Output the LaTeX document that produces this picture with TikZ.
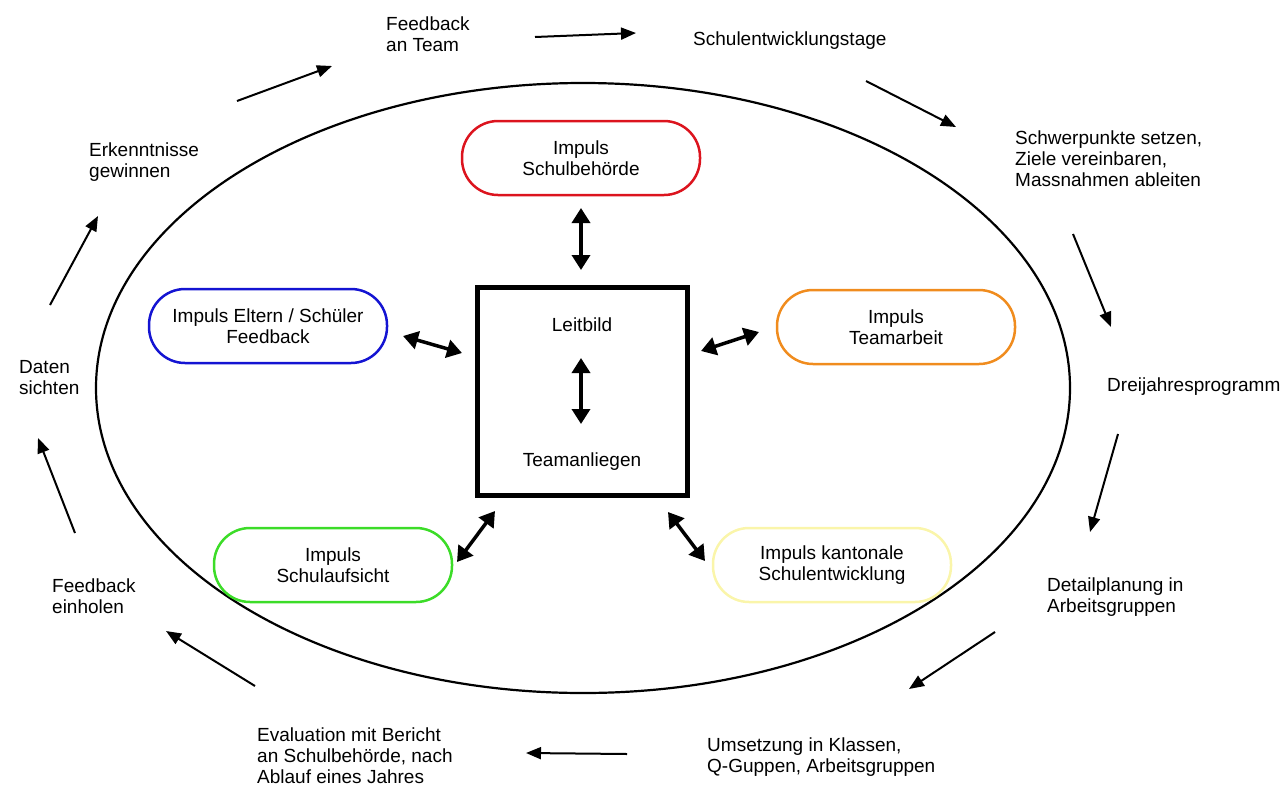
\documentclass[tikz,border=0pt]{standalone}
\usepackage{fontspec}
\setmainfont{Liberation Sans}
\usetikzlibrary{arrows.meta}
\begin{document}
\begin{tikzpicture}[x=1pt,y=-1pt,
  txt/.style={inner sep=0pt,align=left,anchor=west,font=\fontsize{19}{21}\selectfont},
  impuls/.style={draw,line width=2.5pt,rounded corners=36pt,minimum width=238pt,minimum height=74pt,align=center,font=\fontsize{19}{21}\selectfont},
  twoway/.style={line width=3.5pt,{Triangle[length=15pt,width=18pt]}-{Triangle[length=15pt,width=18pt]}},
  cyclearrow/.style={line width=2pt,-{Triangle[length=15pt,width=12pt]}}]
\useasboundingbox (0,0) rectangle (1282,798);

% outer ellipse
\draw[line width=2.2pt] (583,388) ellipse [x radius=487pt, y radius=305pt];

% central square
\node[draw,line width=5pt,minimum width=210pt,minimum height=208pt] (core) at (582,391) {};
\node[font=\fontsize{19}{21}\selectfont,inner sep=0pt] (leit) at (582,325) {Leitbild};
\node[font=\fontsize{19}{21}\selectfont,inner sep=0pt] (team) at (582,462) {Teamanliegen};

% impulse boxes
\node[impuls,draw={rgb,255:red,220;green,20;blue,30}] (behoerde) at (581,158) {Impuls\\Schulbehörde};
\node[impuls,draw={rgb,255:red,20;green,20;blue,210}] (eltern) at (268,326) {Impuls Eltern / Schüler\\Feedback};
\node[impuls,draw={rgb,255:red,240;green,140;blue,30}] (teamarbeit) at (896,327) {Impuls\\Teamarbeit};
\node[impuls,draw={rgb,255:red,60;green,220;blue,40}] (aufsicht) at (333,565) {Impuls\\Schulaufsicht};
\node[impuls,draw={rgb,255:red,250;green,245;blue,170}] (kanton) at (832,565) {Impuls kantonale\\Schulentwicklung};

% two-way connectors
\coordinate (a1) at (581,208); \coordinate (a2) at (581,270);
\coordinate (b1) at (581,358); \coordinate (b2) at (581,424);
\coordinate (c1) at (403,336); \coordinate (c2) at (462,353);
\coordinate (d1) at (701,351); \coordinate (d2) at (759,332);
\coordinate (e1) at (457,562); \coordinate (e2) at (495,511);
\coordinate (f1) at (668,512); \coordinate (f2) at (705,561);
\draw[twoway] (a1) -- (a2);
\draw[twoway] (b1) -- (b2);
\draw[twoway] (c1) -- (c2);
\draw[twoway] (d1) -- (d2);
\draw[twoway] (e1) -- (e2);
\draw[twoway] (f1) -- (f2);

% cycle labels
\node[txt] (s1) at (386,34) {Feedback\\an Team};
\node[txt] (s2) at (693,41) {Schulentwicklungstage};
\node[txt] (s3) at (1015,159) {Schwerpunkte setzen,\\Ziele vereinbaren,\\Massnahmen ableiten};
\node[txt] (s4) at (1107,387) {Dreijahresprogramm};
\node[txt] (s5) at (1047,597) {Detailplanung in\\Arbeitsgruppen};
\node[txt] (s6) at (707,757) {Umsetzung in Klassen,\\Q-Guppen, Arbeitsgruppen};
\node[txt] (s7) at (257,756) {Evaluation mit Bericht\\an Schulbehörde, nach\\Ablauf eines Jahres};
\node[txt] (s8) at (52,596) {Feedback\\einholen};
\node[txt] (s9) at (19,378) {Daten\\sichten};
\node[txt] (s10) at (89,162) {Erkenntnisse\\gewinnen};

% cycle arrows
\coordinate (p1) at (237,101);  \coordinate (q1) at (332,66);
\coordinate (p2) at (535,37);   \coordinate (q2) at (636,33);
\coordinate (p3) at (866,81);   \coordinate (q3) at (956,127);
\coordinate (p4) at (1073,234); \coordinate (q4) at (1111,327);
\coordinate (p5) at (1118,434); \coordinate (q5) at (1090,532);
\coordinate (p6) at (995,632);  \coordinate (q6) at (909,689);
\coordinate (p7) at (627,754);  \coordinate (q7) at (526,753);
\coordinate (p8) at (255,686);  \coordinate (q8) at (166,631);
\coordinate (p9) at (75,533);   \coordinate (q9) at (38,438);
\coordinate (p10) at (50,305);  \coordinate (q10) at (98,216);
\draw[cyclearrow] (p1) -- (q1);
\draw[cyclearrow] (p2) -- (q2);
\draw[cyclearrow] (p3) -- (q3);
\draw[cyclearrow] (p4) -- (q4);
\draw[cyclearrow] (p5) -- (q5);
\draw[cyclearrow] (p6) -- (q6);
\draw[cyclearrow] (p7) -- (q7);
\draw[cyclearrow] (p8) -- (q8);
\draw[cyclearrow] (p9) -- (q9);
\draw[cyclearrow] (p10) -- (q10);
\end{tikzpicture}
\end{document}
